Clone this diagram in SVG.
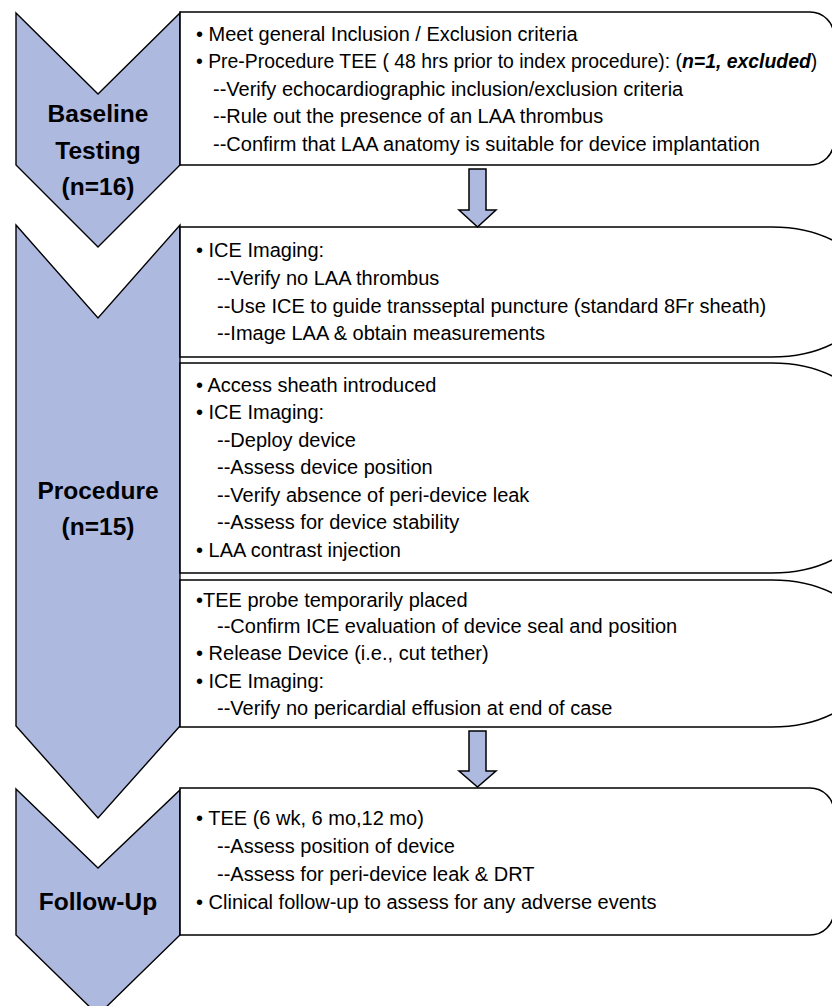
<svg xmlns="http://www.w3.org/2000/svg" width="832" height="1006" viewBox="0 0 832 1006">
<defs>
<style>
.chev{fill:#AEB9E0;stroke:#000;stroke-width:1.4;stroke-linejoin:miter}
.box{fill:#fff;stroke:#000;stroke-width:1.6}
.arr{fill:#AEB9E0;stroke:#000;stroke-width:1.5}
.t{font-family:"Liberation Sans",Arial,sans-serif;font-size:20px;fill:#000}
.s{font-size:19.4px}
.h{font-family:"Liberation Sans",Arial,sans-serif;font-size:24.5px;font-weight:bold;fill:#000;text-anchor:middle}
.bi{font-weight:bold;font-style:italic}
</style>
</defs>
<rect width="832" height="1006" fill="#fff"/>

<g id="baseline-chevron">
<path class="chev" d="M16,13 L98,94 L180,13 L180,165 L98,247 L16,165 Z"/>
<text class="h" x="98" y="122">Baseline</text>
<text class="h" x="98" y="159">Testing</text>
<text class="h" x="98" y="195">(n=16)</text>
</g>

<g id="procedure-chevron">
<path class="chev" d="M16,225 L98,318 L180,225 L180,726 L98,818 L16,726 Z"/>
<text class="h" x="98" y="499">Procedure</text>
<text class="h" x="98" y="535">(n=15)</text>
</g>

<g id="followup-chevron">
<path class="chev" d="M16,789 L98,868 L180,790 L180,935 L98,1015 L16,935 Z"/>
<text class="h" x="98" y="910">Follow-Up</text>
</g>

<g id="baseline-box">
<path class="box" d="M180,12 H810 A24,24 0 0 1 834,36 V141 A24,24 0 0 1 810,165 H180 Z"/>
<text class="t" x="196" y="41">• Meet general Inclusion / Exclusion criteria</text>
<text class="t s" x="196" y="68">• Pre-Procedure TEE ( 48 hrs prior to index procedure): (<tspan class="bi">n=1, excluded</tspan>)</text>
<text class="t" x="213" y="96">--Verify echocardiographic inclusion/exclusion criteria</text>
<text class="t" x="213" y="123">--Rule out the presence of an LAA thrombus</text>
<text class="t" x="213" y="151">--Confirm that LAA anatomy is suitable for device implantation</text>
</g>

<g id="ice-imaging-box">
<path class="box" d="M180,227 H772 A100,65 0 0 1 872,292 A100,65 0 0 1 772,357 H180 Z"/>
<text class="t" x="196" y="257">• ICE Imaging:</text>
<text class="t" x="217" y="285">--Verify no LAA thrombus</text>
<text class="t" x="217" y="313">--Use ICE to guide transseptal puncture (standard 8Fr sheath)</text>
<text class="t" x="217" y="340">--Image LAA &amp; obtain measurements</text>
</g>

<g id="deploy-box">
<path class="box" d="M180,363 H772 A100,65 0 0 1 872,428 V508 A100,65 0 0 1 772,573 H180 Z"/>
<text class="t" x="196" y="392">• Access sheath introduced</text>
<text class="t" x="196" y="419">• ICE Imaging:</text>
<text class="t" x="217" y="447">--Deploy device</text>
<text class="t" x="217" y="474">--Assess device position</text>
<text class="t" x="217" y="502">--Verify absence of peri-device leak</text>
<text class="t" x="217" y="529">--Assess for device stability</text>
<text class="t" x="196" y="557">• LAA contrast injection</text>
</g>

<g id="release-box">
<path class="box" d="M180,580 H772 A100,65 0 0 1 872,645 V662 A100,65 0 0 1 772,727 H180 Z"/>
<text class="t" x="196" y="607">•TEE probe temporarily placed</text>
<text class="t" x="217" y="633">--Confirm ICE evaluation of device seal and position</text>
<text class="t" x="196" y="660">• Release Device (i.e., cut tether)</text>
<text class="t" x="196" y="688">• ICE Imaging:</text>
<text class="t" x="217" y="715">--Verify no pericardial effusion at end of case</text>
</g>

<g id="followup-box">
<path class="box" d="M180,788 H810 A24,24 0 0 1 834,812 V911 A24,24 0 0 1 810,935 H180 Z"/>
<text class="t" x="196" y="825">• TEE (6 wk, 6 mo,12 mo)</text>
<text class="t" x="217" y="853">--Assess position of device</text>
<text class="t" x="217" y="881">--Assess for peri-device leak &amp; DRT</text>
<text class="t" x="196" y="909">• Clinical follow-up to assess for any adverse events</text>
</g>

<g id="connectors">
<path class="arr" d="M469,169 H486 V210 H496 L477.5,227 L459,210 H469 Z"/>
<path class="arr" d="M469,731 H486 V771 H496 L477.5,787 L459,771 H469 Z"/>
</g>
</svg>
